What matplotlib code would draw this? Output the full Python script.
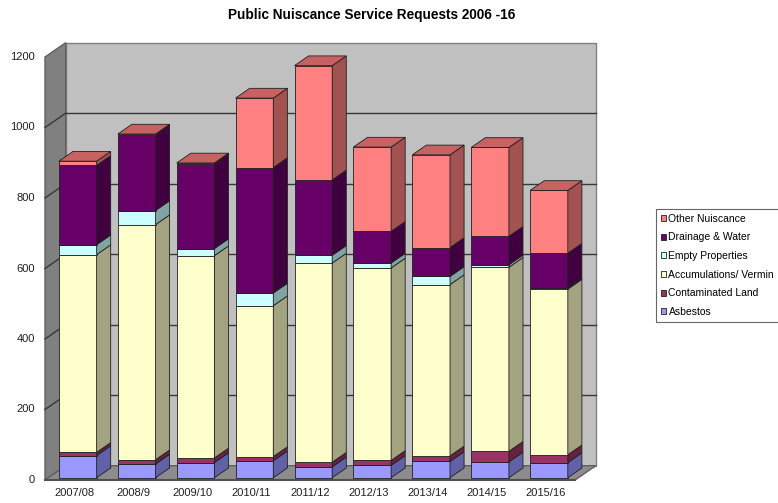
import numpy as np
import matplotlib.pyplot as plt
from matplotlib.patches import Polygon, Patch

plt.rcParams['font.family'] = ['Liberation Sans', 'DejaVu Sans']

years = ['2007/08', '2008/9', '2009/10', '2010/11', '2011/12', '2012/13', '2013/14', '2014/15', '2015/16']
series = ['Asbestos', 'Contaminated Land', 'Accumulations/ Vermin', 'Empty Properties', 'Drainage & Water', 'Other Nuiscance']
asbestos = [63, 39, 43, 48, 31, 35, 46, 45, 43]
contaminated = [9, 12, 13, 12, 13, 14, 16, 30, 22]
accumulations = [561, 667, 574, 428, 565, 546, 486, 522, 470]
empty_props = [28, 40, 20, 36, 22, 14, 23, 7, 3]
drainage = [225, 215, 240, 356, 214, 90, 82, 81, 99]
other = [12, 2, 3, 197, 324, 239, 263, 252, 178]
yticks = [0, 200, 400, 600, 800, 1000, 1200]

data = [asbestos, contaminated, accumulations, empty_props, drainage, other]
front_col = ['#9999FF', '#993366', '#FFFFCC', '#CCFFFF', '#660066', '#FF8080']
side_col = ['#6161A8', '#66223F', '#A3A382', '#80A3A3', '#400040', '#A35252']
top_other = '#C86262'

fig = plt.figure(figsize=(7.78, 5.03), dpi=100)
ax = fig.add_axes([0, 0, 1, 1])
# pixel -> data: x px = 45 + 58.9*(x+0.5), y px = 480 - 0.3525*v
ax.set_xlim(-0.5 - 45 / 58.9, -0.5 + 733 / 58.9)
ax.set_ylim(-23 / 0.3525, 480 / 0.3525)
ax.axis('off')

ddx, ddy = 20.7 / 58.9, 14.3 / 0.3525   # full depth of the box
n = len(years)
x0, x1, top = -0.5, n - 0.5, 1200

# walls and floor
ax.add_patch(Polygon([(x0 + ddx, ddy), (x1 + ddx, ddy), (x1 + ddx, top + ddy), (x0 + ddx, top + ddy)],
                     fc='#C0C0C0', ec='#808080', lw=1, zorder=1))
ax.add_patch(Polygon([(x0, 0), (x0 + ddx, ddy), (x0 + ddx, top + ddy), (x0, top)],
                     fc='#808080', ec='#606060', lw=1, zorder=1))
ax.add_patch(Polygon([(x0, 0), (x1, 0), (x1 + ddx, ddy), (x0 + ddx, ddy)],
                     fc='#8C8C8C', ec='#606060', lw=1, zorder=1))
ax.plot([x0, x1], [0, 0], color='#505050', lw=1.5, zorder=1.5)

for v in yticks[1:-1]:
    ax.plot([x0 + ddx, x1 + ddx], [v + ddy, v + ddy], color='#383838', lw=1, zorder=2)
    ax.plot([x0, x0 + ddx], [v, v + ddy], color='#383838', lw=1, zorder=2)
for v in yticks:
    ax.text(x0 - 0.17, v, str(v), ha='right', va='center', fontsize=8, color='#202020')

for i, lab in enumerate(years):
    ax.text(i, -37, lab, ha='center', va='center', fontsize=8, color='#202020')

# bars
w = 0.64
fx, fy = 0.16 * ddx, 0.16 * ddy     # front face offset
bdx, bdy = 0.68 * ddx, 0.68 * ddy   # bar depth
x = np.arange(n)
bottom = np.zeros(n)
for k, vals in enumerate(data):
    vals = np.array(vals, dtype=float)
    ax.bar(x + fx, vals, bottom=bottom + fy, width=w, color=front_col[k],
           edgecolor='#202020', lw=0.6, zorder=5)
    for i in range(n):
        xr = i + fx + w / 2
        b, t = bottom[i] + fy, bottom[i] + vals[i] + fy
        ax.add_patch(Polygon([(xr, b), (xr + bdx, b + bdy), (xr + bdx, t + bdy), (xr, t)],
                             fc=side_col[k], ec='#202020', lw=0.6, zorder=5))
    bottom += vals

for i in range(n):
    xl = i + fx - w / 2
    t = bottom[i] + fy
    ax.add_patch(Polygon([(xl, t), (xl + w, t), (xl + w + bdx, t + bdy), (xl + bdx, t + bdy)],
                         fc=top_other, ec='#202020', lw=0.6, zorder=5))

fig.text(372 / 778, 1 - 15 / 503, 'Public Nuiscance Service Requests 2006 -16',
         ha='center', va='center', fontsize=9.8, fontweight='bold')

handles = [Patch(fc=front_col[k], ec='#202020', lw=0.6) for k in range(len(series))][::-1]
leg = fig.legend(handles, series[::-1], loc='upper left',
                 bbox_to_anchor=(656 / 778, 1 - 209 / 503), fontsize=7.5, frameon=True,
                 fancybox=False, edgecolor='#404040', handlelength=0.5, handleheight=0.5,
                 handletextpad=0.25, labelspacing=0.83, borderpad=0.45, borderaxespad=0)
leg.get_frame().set_linewidth(0.8)

fig.savefig('out.png', dpi=100)
